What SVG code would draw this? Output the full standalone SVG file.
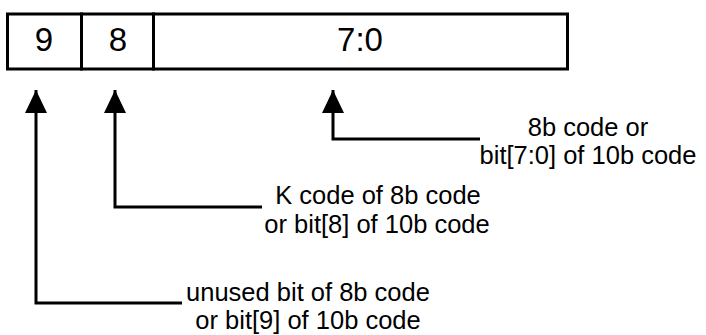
<svg xmlns="http://www.w3.org/2000/svg" width="706" height="335" viewBox="0 0 706 335">
<style>
.box{fill:#fff;stroke:#000;stroke-width:3}
.ln{fill:none;stroke:#000;stroke-width:3}
.num{font-family:"Liberation Sans",Arial,sans-serif;font-size:33px;fill:#000;text-anchor:middle}
.lbl{font-family:"Liberation Sans",Arial,sans-serif;font-size:25.5px;fill:#000;text-anchor:middle}
</style>
<defs>
<marker id="ah" viewBox="0 0 23 22" refX="23" refY="11" markerWidth="23" markerHeight="22" markerUnits="userSpaceOnUse" orient="auto">
<path d="M0,0 L23,11 L0,22 Z" fill="#000"/>
</marker>
</defs>
<rect width="706" height="335" fill="#fff"/>
<g id="field9">
<rect class="box" x="7.5" y="14" width="74" height="55"/>
<text class="num" x="44" y="51">9</text>
</g>
<g id="field8">
<rect class="box" x="81.5" y="14" width="72" height="55"/>
<text class="num" x="118" y="51">8</text>
</g>
<g id="field7_0">
<rect class="box" x="153.5" y="14" width="414" height="55"/>
<text class="num" x="360" y="51">7:0</text>
</g>
<g id="connectors">
<path class="ln" d="M182,303 H36 V90" marker-end="url(#ah)"/>
<path class="ln" d="M262,207 H115 V90" marker-end="url(#ah)"/>
<path class="ln" d="M480,139 H333 V90" marker-end="url(#ah)"/>
</g>
<g id="label7_0">
<text class="lbl" x="588" y="136">8b code or</text>
<text class="lbl" x="588" y="164">bit[7:0] of 10b code</text>
</g>
<g id="label8">
<text class="lbl" x="378" y="204">K code of 8b code</text>
<text class="lbl" x="377" y="233">or bit[8] of 10b code</text>
</g>
<g id="label9">
<text class="lbl" x="308" y="301">unused bit of 8b code</text>
<text class="lbl" x="308" y="329">or bit[9] of 10b code</text>
</g>
</svg>
